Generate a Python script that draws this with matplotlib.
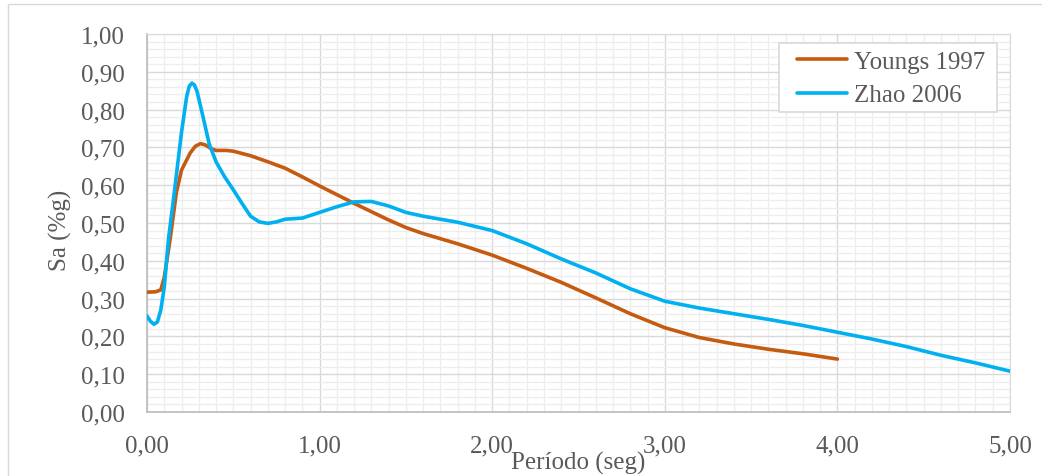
import numpy as np
import matplotlib
matplotlib.use("Agg")
import matplotlib.pyplot as plt
from matplotlib.ticker import MultipleLocator, FuncFormatter
from matplotlib.patches import Rectangle

plt.rcParams['font.family'] = ['Liberation Serif', 'DejaVu Serif']
plt.rcParams['font.size'] = 18

# --- datos ---
t_youngs = [0, 0.05, 0.08, 0.10, 0.135, 0.17, 0.2, 0.25, 0.28, 0.31, 0.34, 0.37, 0.4,
            0.46, 0.5, 0.6, 0.7, 0.8, 0.9, 1.0, 1.1, 1.2, 1.3, 1.4, 1.5, 1.6, 1.8,
            2.0, 2.2, 2.4, 2.6, 2.8, 3.0, 3.2, 3.4, 3.6, 3.8, 4.0]
sa_youngs = [0.317, 0.318, 0.323, 0.356, 0.46, 0.58, 0.64, 0.685, 0.703, 0.71, 0.706,
             0.697, 0.692, 0.692, 0.69, 0.678, 0.662, 0.645, 0.622, 0.598, 0.575,
             0.552, 0.53, 0.508, 0.488, 0.472, 0.445, 0.415, 0.38, 0.343, 0.302, 0.26,
             0.223, 0.197, 0.18, 0.166, 0.154, 0.14]

t_zhao = [0, 0.02, 0.04, 0.06, 0.08, 0.1, 0.125, 0.15, 0.2, 0.23, 0.245, 0.26, 0.275,
          0.29, 0.32, 0.36, 0.4, 0.45, 0.5, 0.55, 0.6, 0.65, 0.7, 0.75, 0.8, 0.9,
          1.0, 1.1, 1.2, 1.3, 1.4, 1.5, 1.6, 1.8, 2.0, 2.2, 2.4, 2.6, 2.8, 3.0, 3.2,
          3.4, 3.6, 3.8, 4.0, 4.2, 4.4, 4.6, 4.8, 5.0]
sa_zhao = [0.254, 0.24, 0.232, 0.238, 0.27, 0.33, 0.46, 0.55, 0.74, 0.835, 0.862,
           0.87, 0.865, 0.848, 0.79, 0.71, 0.662, 0.622, 0.588, 0.552, 0.518, 0.503,
           0.499, 0.503, 0.51, 0.513, 0.528, 0.543, 0.556, 0.557, 0.545, 0.528,
           0.518, 0.502, 0.48, 0.445, 0.405, 0.368, 0.326, 0.293, 0.275, 0.26, 0.245,
           0.229, 0.211, 0.193, 0.173, 0.15, 0.13, 0.108]

W, H = 1042, 477
fig = plt.figure(figsize=(W / 100, H / 100), dpi=100)
ax = fig.add_axes([147 / W, 1 - 413 / H, (1010 - 147) / W, (413 - 35) / H])

# borde del area del grafico (recortado a la derecha y abajo)
fig.patches.append(Rectangle((8 / W, -0.1), 1.2, 1 - 5 / H + 0.1, transform=fig.transFigure,
                             fill=False, edgecolor='#D9D9D9', lw=1))

ax.plot(t_youngs, sa_youngs, color='#C55A11', lw=2.6, solid_capstyle='round',
        solid_joinstyle='round', label='Youngs 1997', zorder=3)
ax.plot(t_zhao, sa_zhao, color='#00B0F0', lw=2.6, solid_capstyle='round',
        solid_joinstyle='round', label='Zhao 2006', zorder=4)

ax.set_xlim(0, 5)
ax.set_ylim(0, 1)
ax.xaxis.set_major_locator(MultipleLocator(1))
ax.xaxis.set_minor_locator(MultipleLocator(0.1))
ax.yaxis.set_major_locator(MultipleLocator(0.1))
ax.yaxis.set_minor_locator(MultipleLocator(0.02))
fmt = FuncFormatter(lambda v, p: f"{v:.2f}".replace('.', ','))
ax.xaxis.set_major_formatter(fmt)
ax.yaxis.set_major_formatter(fmt)

ax.grid(True, which='major', color='#D9D9D9', lw=1)
ax.grid(True, which='minor', color='#EDEDED', lw=0.9)
ax.set_axisbelow(True)
ax.tick_params(which='both', length=0, colors='#595959')
ax.tick_params(axis='y', pad=16)
ax.tick_params(axis='x', pad=16)

for s in ['top', 'right']:
    ax.spines[s].set_color('#D9D9D9')
for s in ['left', 'bottom']:
    ax.spines[s].set_color('#BFBFBF')
    ax.spines[s].set_linewidth(1.3)

fig.text(60 / W, 1 - 230 / H, 'Sa (%g)', rotation=90, ha='center', va='center',
         color='#595959')
fig.text(578 / W, 1 - 463 / H, 'Período (seg)', ha='center', va='center', color='#595959')

# caja de la leyenda
ax.add_patch(Rectangle((779 / W, 1 - 113 / H), (997 - 779) / W, (113 - 44) / H,
                       transform=fig.transFigure, facecolor='white', clip_on=False,
                       edgecolor='#D9D9D9', lw=1.2, zorder=5))
leg = ax.legend(loc='upper left', bbox_to_anchor=(797 / W, 1 - 51 / H),
                bbox_transform=fig.transFigure, frameon=False, borderaxespad=0,
                borderpad=0, handlelength=2.0, handletextpad=0.3, labelspacing=0.45)
leg.set_zorder(6)
for txt in leg.get_texts():
    txt.set_color('#595959')

fig.savefig('out.png', dpi=100)
